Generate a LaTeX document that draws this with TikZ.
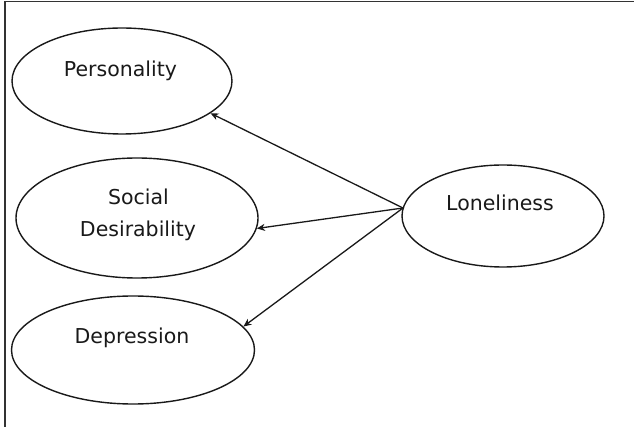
\documentclass[tikz,border=0pt]{standalone}
\usepackage{fontspec}
\newfontfamily\diagfont{DejaVu Sans}
\usetikzlibrary{shapes.geometric,arrows.meta}
\begin{document}
\begin{tikzpicture}[x=1pt,y=-1pt,
  oval/.style={draw=black!90,ellipse,line width=1.4pt,inner sep=0pt},
  lbl/.style={anchor=base,inner sep=0pt,font=\diagfont\fontsize{20.5}{32}\selectfont,text=black!90},
  conn/.style={draw=black!90,line width=1.3pt,-{Stealth[length=8pt,width=7pt,inset=2.5pt]}}]
\useasboundingbox (0,0) rectangle (634,427);
\draw[line width=1.6pt,black!80] (5,1.5) -- (634,1.5);
\draw[line width=1.6pt,black!80] (5,1.5) -- (5,427);
\node[oval,minimum width=220pt,minimum height=106pt] (per) at (122,81) {};
\node[oval,minimum width=242pt,minimum height=120pt] (soc) at (137,218) {};
\node[oval,minimum width=243pt,minimum height=108pt] (dep) at (133,350) {};
\node[oval,minimum width=202pt,minimum height=102pt] (lon) at (503,216) {};
\node[lbl] (tper) at (120.5,77) {Personality};
\node[lbl] (tsoc1) at (138.5,205) {Social};
\node[lbl] (tsoc2) at (138,237) {Desirability};
\node[lbl] (tdep) at (132,343) {Depression};
\node[lbl] (tlon) at (500,211) {Loneliness};
\coordinate (src) at (403,208);
\draw[conn] (src) -- (per.-20);
\draw[conn] (src) -- (soc.-5);
\draw[conn] (src) -- (dep.12);
\end{tikzpicture}
\end{document}
